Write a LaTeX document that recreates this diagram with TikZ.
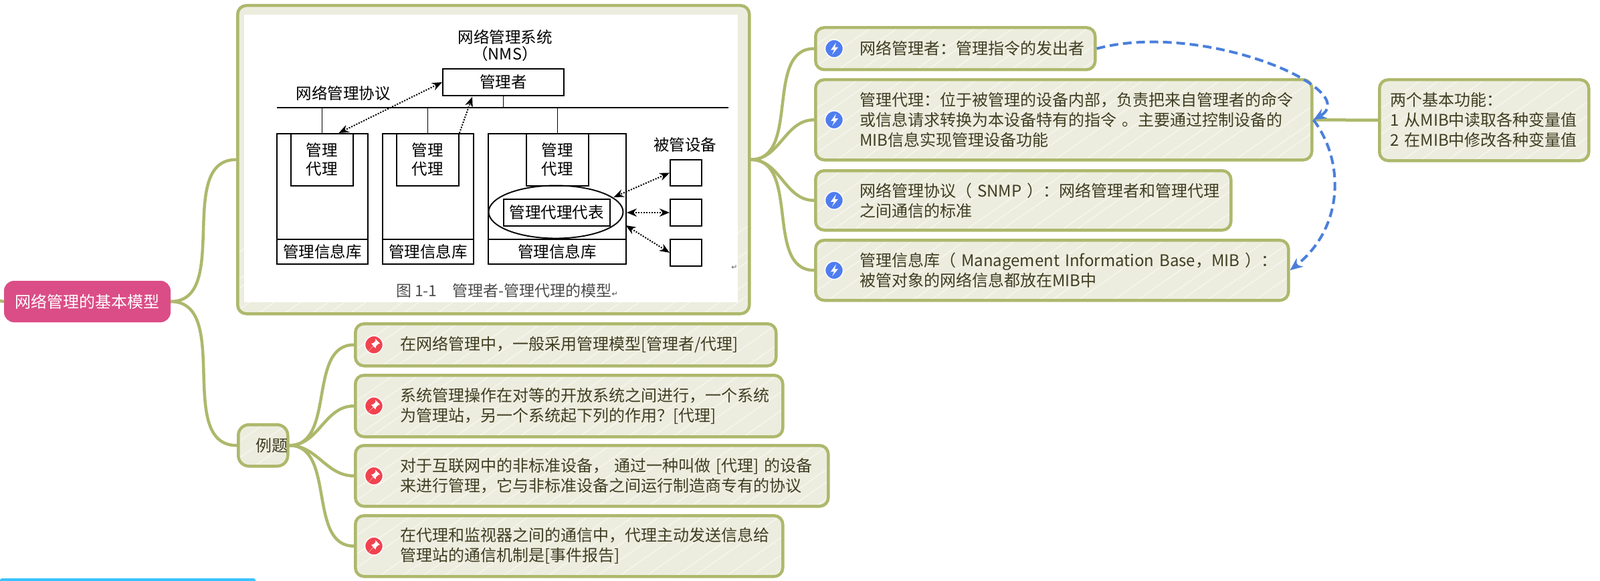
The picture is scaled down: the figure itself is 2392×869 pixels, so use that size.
\documentclass[tikz,border=0pt]{standalone}
\usepackage{fontspec}
\setmainfont{Noto Sans CJK SC}
\newfontfamily\symfont{DejaVu Sans}
\usetikzlibrary{arrows.meta,calc,shapes.geometric}
\definecolor{mossgreen}{HTML}{AEB86C}
\definecolor{leafpaper}{HTML}{EDEDDF}
\definecolor{leafink}{HTML}{3F3D22}
\definecolor{rootpink}{HTML}{DB4D87}
\definecolor{boltblue}{HTML}{4F7DF0}
\definecolor{pinred}{HTML}{F0434F}
\definecolor{linkblue}{HTML}{4A7FDC}
\definecolor{stripcyan}{HTML}{38C3FF}
\tikzset{
    hachure/.style={path picture={
        \foreach \i in {0,37,...,1000}
            \draw [white,opacity=0.55,line width=1.3pt] ($(path picture bounding box.south west)+(\i-130+22*rnd,0)$) -- ++(190,-133);
    }},
    leaf/.style={draw=mossgreen,fill=leafpaper,line width=4.5pt,rounded corners=13pt,hachure,
        anchor=north west,inner xsep=0pt,inner ysep=0pt,align=left,text=leafink,
        font=\fontsize{24}{30}\selectfont,execute at begin node={\leftskip=#1}},
    leaf/.default=66pt,
    branch/.style={draw=mossgreen,line width=4.5pt},
    bolt/.style={circle,fill=boltblue,draw=white,line width=1.5pt,minimum size=27pt,inner sep=0pt,path picture={
        \fill [white] ($(path picture bounding box.center)+(3,-9)$) -- ++(-8,11) -- ++(5,0) -- ++(-3,7) -- ++(9,-11) -- ++(-5,0) -- cycle;
    }},
    pin/.style={circle,fill=pinred,draw=white,line width=1.5pt,minimum size=27pt,inner sep=0pt,path picture={
        \fill [white] ($(path picture bounding box.center)+(2,-9)$) -- ++(7,7) -- ++(-2.5,0.5) -- ++(-3.5,3.5) -- ++(-0.5,3) -- ++(-3.5,-3) -- ++(-7,7) -- ++(7,-7.5) -- ++(-3,-3.5) -- ++(3,-0.5) -- ++(3.5,-3.5) -- cycle;
    }},
    link/.style={linkblue,line width=4pt,dash pattern=on 13pt off 7pt,-{Stealth[length=19pt,width=16pt]}},
    figbox/.style={draw=black,line width=1.9pt,fill=white,anchor=north west,inner sep=0pt,align=center,text=black,
        font=\fontsize{23.5}{28}\selectfont},
    figtext/.style={inner sep=0pt,align=center,text=black,font=\fontsize{23.5}{25}\selectfont},
    figdots/.style={black,line width=2pt,dash pattern=on 2pt off 2pt},
    figlink/.style={figdots,{Stealth[length=15pt,width=12pt]}-{Stealth[length=15pt,width=12pt]}},
}
\begin{document}
\begin{tikzpicture}[x=1pt,y=-1pt]
    \useasboundingbox (0,0) rectangle (2392,869);
    % mind map nodes
    \node [draw=rootpink,fill=rootpink,line width=2pt,rounded corners=14pt,anchor=north west,minimum width=247pt,minimum height=60pt,inner sep=0pt,text=white,font=\fontsize{24}{30}\selectfont] (root) at (6,420) {网络管理的基本模型};
    \node [leaf=0pt,minimum width=765pt,minimum height=461pt,text width=765pt] (figure) at (353,6) {};
    \node [fill=white,anchor=north west,minimum width=738pt,minimum height=430pt,inner sep=0pt] (sheet) at (365,22) {};
    \node [leaf={0pt plus 1fil},minimum height=62pt,text width=74pt,align=center,rounded corners=16pt] (exam) at (354,633) {例题};

    \node [leaf,minimum height=63pt,text width=418pt] (manager) at (1217,39) {网络管理者：管理指令的发出者};
    \node [leaf,minimum height=120pt,text width=742pt] (agent) at (1217,117) {管理代理：位于被管理的设备内部，负责把来自管理者的命令\\或信息请求转换为本设备特有的指令 。主要通过控制设备的\\MIB信息实现管理设备功能};
    \node [leaf,minimum height=89pt,text width=621pt] (snmp) at (1217,253) {网络管理协议（ SNMP ）：网络管理者和管理代理\\之间通信的标准};
    \node [leaf,minimum height=90pt,text width=707pt] (mib) at (1217,357) {管理信息库（ Management Information Base，MIB ）：\\被管对象的网络信息都放在MIB中};
    \node [leaf=16pt,minimum height=121pt,text width=313pt] (note) at (2060,117) {两个基本功能：\\1 从MIB中读取各种变量值\\2 在MIB中修改各种变量值};

    \node [leaf=67pt,minimum height=63pt,text width=629pt] (quiza) at (529,482) {在网络管理中，一般采用管理模型[管理者/代理]};
    \node [leaf=67pt,minimum height=92pt,text width=639pt] (quizb) at (529,559) {系统管理操作在对等的开放系统之间进行，一个系统\\为管理站，另一个系统起下列的作用？[代理]};
    \node [leaf=67pt,minimum height=91pt,text width=707pt] (quizc) at (529,664) {对于互联网中的非标准设备， 通过一种叫做 [代理] 的设备\\来进行管理，它与非标准设备之间运行制造商专有的协议};
    \node [leaf=67pt,minimum height=91pt,text width=639pt] (quizd) at (529,769) {在代理和监视器之间的通信中，代理主动发送信息给\\管理站的通信机制是[事件报告]};

    % icons
    \foreach \n in {manager,agent,snmp,mib}
        \node [bolt] (bolt\n) at ($(\n.west)+(30,0)$) {};
    \foreach \n in {quiza,quizb,quizc,quizd}
        \node [pin] (pin\n) at ($(\n.west)+(30,0)$) {};

    % branches
    \coordinate (rootstub) at (0,450);
    \draw [branch] (rootstub) -- (root.west);
    \draw [branch] (root.east) to [out=0,in=180] (figure.west);
    \draw [branch] (root.east) to [out=0,in=180] (exam.west);
    \foreach \n in {manager,agent,snmp,mib}
        \draw [branch] (figure.east) to [out=0,in=180] (\n.west);
    \foreach \n in {quiza,quizb,quizc,quizd}
        \draw [branch] (exam.east) to [out=0,in=180] (\n.west);
    \draw [branch] (note.west) -- (agent.east);
    \draw [link] (manager.east) .. controls (1800,30) and (2040,135) .. (agent.east);
    \draw [link] (agent.east) .. controls (2010,240) and (2010,340) .. (mib.east);

    % figure inside the picture
    \node [figtext] (nms) at (755,68) {网络管理系统\\（NMS）};
    \node [figbox,minimum width=181pt,minimum height=40pt] (nmsbox) at (661,102) {管理者};
    \node [figtext] (protocol) at (513,140) {网络管理协议};
    \coordinate (busleft) at (414,161);
    \coordinate (busright) at (1089,161);
    \draw [black,line width=2.2pt] (busleft) -- (busright);

    \node [figbox,minimum width=136pt,minimum height=158pt] (racka) at (413,199) {};
    \node [figbox,minimum width=136pt,minimum height=37pt] (dba) at (413,357) {管理信息库};
    \node [figbox,minimum width=93pt,minimum height=78pt] (agenta) at (434,199) {管理\\代理};
    \node [figbox,minimum width=136pt,minimum height=158pt] (rackb) at (571,199) {};
    \node [figbox,minimum width=136pt,minimum height=37pt] (dbb) at (571,357) {管理信息库};
    \node [figbox,minimum width=93pt,minimum height=78pt] (agentb) at (592,199) {管理\\代理};
    \node [figbox,minimum width=206pt,minimum height=158pt] (rackc) at (729,199) {};
    \node [figbox,minimum width=206pt,minimum height=37pt] (dbc) at (729,357) {管理信息库};
    \node [figbox,minimum width=93pt,minimum height=78pt] (agentc) at (786,199) {管理\\代理};
    \node [draw=black,line width=1.9pt,ellipse,minimum width=201pt,minimum height=79pt,inner sep=0pt] (proxyring) at (831,317) {};
    \node [figbox,minimum width=159pt,minimum height=40pt] (proxy) at (752,297) {管理代理代表};

    \node [figtext] (devices) at (1024,217) {被管设备};
    \node [figbox,minimum width=47pt,minimum height=39pt] (deva) at (1001,238) {};
    \node [figbox,minimum width=47pt,minimum height=40pt] (devb) at (1001,297) {};
    \node [figbox,minimum width=47pt,minimum height=40pt] (devc) at (1001,357) {};

    \draw [black,line width=1.9pt] (nmsbox.south) -- (nmsbox.south |- busleft);
    \draw [black,line width=1.9pt] (agenta.north) -- (agenta.north |- busleft);
    \draw [black,line width=1.9pt] (agentb.north) -- (agentb.north |- busleft);
    \draw [black,line width=1.9pt] (agentc.north) -- (agentc.north |- busleft);
    \draw [figlink] (nmsbox.west) -- ($(agenta.north)+(25,0)$);
    \draw [figdots,-{Stealth[length=15pt,width=12pt]}] (agentb.north east) -- ($(nmsbox.south west)+(45,1)$);
    \draw [figlink] (deva.west) -- ($(proxyring.east)+(-15,-22)$);
    \draw [figlink] (devb.west) -- (rackc.east |- devb.west);
    \draw [figlink] (devc.west) -- ($(proxyring.east)+(3,20)$);

    \node [inner sep=0pt,text=black!70,font=\fontsize{23}{28}\selectfont] (caption) at (758,435) {图 1-1\hspace{1em}管理者-管理代理的模型{\symfont\fontsize{11}{11}\selectfont ↵}};
    \node [inner sep=0pt,text=black!60,font=\symfont\fontsize{11}{11}\selectfont] (returnmark) at (1098,400) {↵};

    % edge of the next map
    \fill [stripcyan,rounded corners=3pt] (0,865) rectangle (382,885);
\end{tikzpicture}
\end{document}
